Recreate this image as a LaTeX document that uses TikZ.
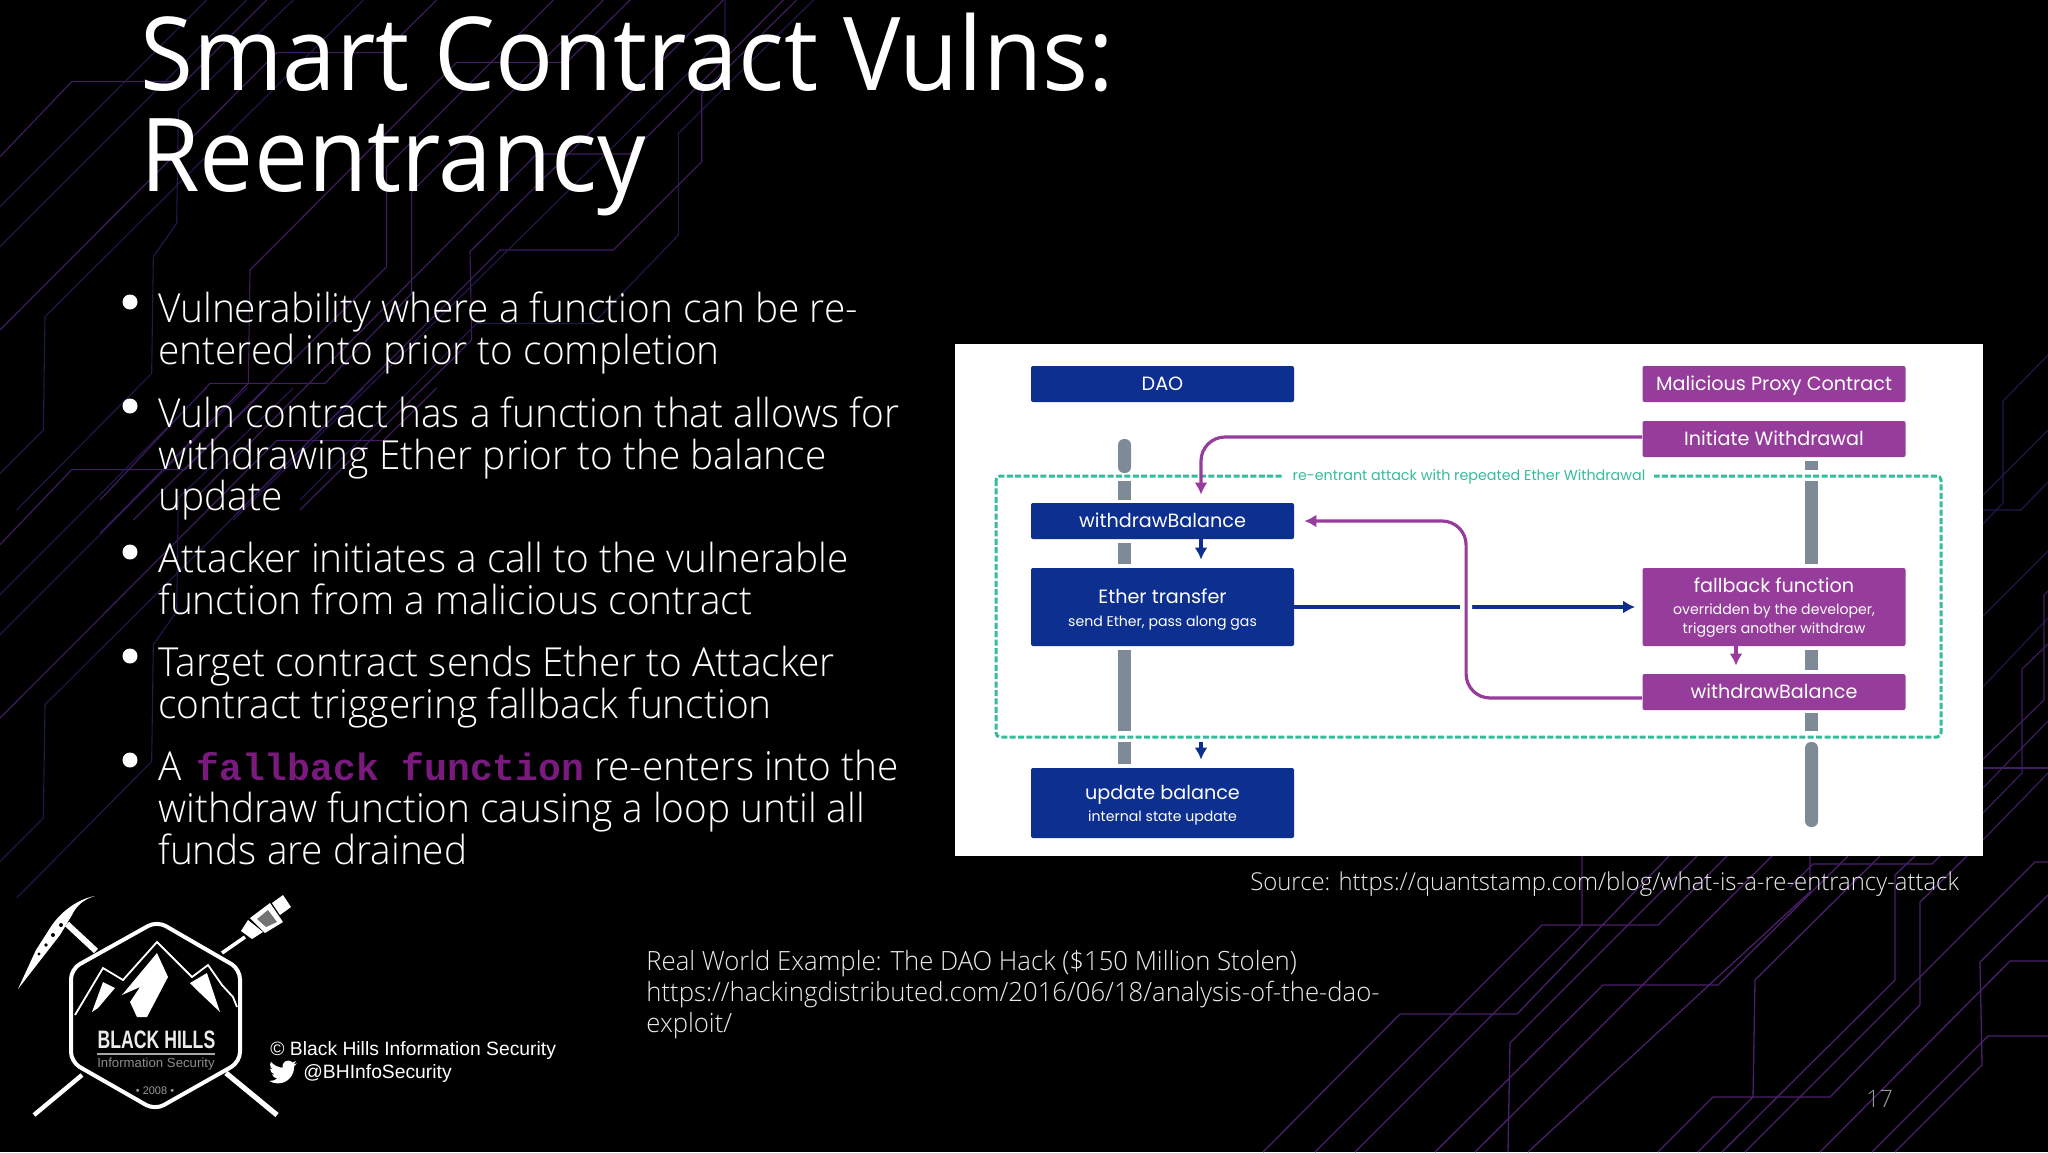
\documentclass[tikz,border=0pt]{standalone}
\usepackage{fontspec}
\usetikzlibrary{arrows.meta}
\setmainfont{Open Sans}[UprightFont=* Light,FakeStretch=0.97]
\newfontfamily\titlefont{Open Sans}[FakeStretch=0.945]
\newfontfamily\diagfont{Poppins}
\newfontfamily\arialfont{Liberation Sans}
\newfontfamily\couriermono{Liberation Mono}[BoldFont=* Bold]
\definecolor{daoblue}{HTML}{0D2F8F}
\definecolor{mpurple}{HTML}{963C9B}
\definecolor{mgreen}{HTML}{35BC9B}
\definecolor{mgray}{HTML}{7E8A96}
\definecolor{traceA}{HTML}{26174F}
\definecolor{traceB}{HTML}{411D63}
\definecolor{traceC}{HTML}{4A1F6C}
\tikzset{
  title/.style={anchor=base west,inner sep=0pt,text=white,font=\titlefont\fontsize{51pt}{60pt}\selectfont},
  body/.style={anchor=base west,inner sep=0pt,text=white,font=\fontsize{20pt}{24pt}\selectfont},
  small/.style={anchor=base west,inner sep=0pt,text=white!92!black,font=\fontsize{13.25pt}{16pt}\selectfont},
  smaller/.style={small,font=\fontsize{12.3pt}{16pt}\selectfont},
  credit/.style={anchor=base west,inner sep=0pt,text=white,font=\arialfont\fontsize{9.65pt}{12pt}\selectfont},
  bullet/.style={circle,fill=white,inner sep=0pt,minimum size=7.5pt},
  dbox/.style={draw=none,rounded corners=1pt,inner sep=0pt,text=white,font=\diagfont\fontsize{9.6pt}{11pt}\selectfont,minimum width=131.5pt,text height=7.5pt,text depth=.7pt},
  bluebox/.style={dbox,fill=daoblue},
  purplebox/.style={dbox,fill=mpurple},
  sub/.style={inner sep=0pt,text=white,font=\diagfont\fontsize{7.05pt}{8pt}\selectfont},
  head/.style={inner sep=0pt,text=white,font=\diagfont\fontsize{9.6pt}{11pt}\selectfont},
  bar/.style={draw=mgray,line width=6.5pt},
  bluearrow/.style={draw=daoblue,line width=1.6pt,-{Latex[length=6pt,width=6.5pt]}},
  purplearrow/.style={draw=mpurple,line width=1.6pt,-{Latex[length=6pt,width=6.5pt]}},
  tA/.style={draw=traceA,line width=.55pt,line join=miter},
  tB/.style={draw=traceB,line width=.55pt,line join=miter},
  tC/.style={draw=traceC,line width=.65pt,line join=miter},
  logoline/.style={draw=white,line width=2.2pt,line cap=butt},
}
\newcommand{\bgtile}{%
  \draw[tB] (0,470)--(215,245)--(555,245)--(800,0);
  \draw[tA] (0,620)--(620,0);
  \draw[tA] (0,740)--(740,0);
  \draw[tB] (0,990)--(830,158)--(1150,158)--(1310,0);
  \draw[tA] (880,0)--(535,330)--(530,670)--(460,770)--(455,1120)--(50,1530);
  \draw[tA] (1090,0)--(135,950)--(130,1290)--(-100,1520);
  \draw[tB] (300,1500)--(630,1150)--(975,1150)--(1235,880)--(1235,575)--(1810,0);
  \draw[tB] (400,1560)--(1160,800)--(1160,500)--(1660,0);
  \draw[tB] (300,1600)--(745,1150)--(750,810)--(1370,187)--(1700,187)--(1890,0);
  \draw[tB] (900,1530)--(1415,1020)--(1410,755)--(2170,0);
  \draw[tA] (900,1500)--(1430,970)--(1780,970)--(2035,705)--(2035,400)--(2440,0);
  \draw[tB] (700,1550)--(1500,750)--(1840,750)--(2105,485)--(2105,280)--(2390,0);
  \draw[tB] (600,1480)--(1610,462)--(1890,462)--(2350,0);
  \draw[tA] (2175,-10)--(2175,110)--(700,1560);
}
\begin{document}
\begin{tikzpicture}[x=.5pt,y=-.5pt]
\useasboundingbox (0,0) rectangle (2048,1152);
\fill[black] (0,0) rectangle (2048,1152);
% background traces
\begin{scope}
\clip (0,0) rectangle (2048,1152);
\begin{scope}[x=.16667pt,y=-.16667pt]
  \bgtile
\end{scope}
\begin{scope}[shift={(0,388)},x=.16667pt,y=-.16667pt]
  \clip (-100,-100)--(1486,-100)--(520,866)--(520,1100)--(-100,1720)--cycle;
  \bgtile
\end{scope}
\draw[tC] (1263,1152)--(1400,1014)--(1517,1014)--(1669,856);
\draw[tC] (1315,1152)--(1542,925)--(1658,925)--(1727,856);
\draw[tC] (1355,1152)--(1582,925)--(1582,856);
\draw[tC] (1435,1152)--(1603,985)--(1718,985)--(1848,856);
\draw[tC] (1508,1152)--(1510,1043)--(1697,856);
\draw[tC] (1475,1152)--(1772,856);
\draw[tC] (1528,1152)--(1810,892)--(1810,856);
\draw[tC] (1658,1152)--(1713,1097)--(1830,1097)--(1920,1005)--(1920,902)--(1967,856);
\draw[tC] (1698,1152)--(1753,1097)--(1755,980)--(1880,856);
\draw[tC] (1722,1152)--(1895,980)--(1895,875)--(1915,856);
\draw[tC] (1745,1152)--(2035,862)--(2048,862);
\draw[tC] (1820,1152)--(2010,961)--(2048,961);
\draw[tC] (1872,1152)--(1988,1036)--(2048,1036);
\draw[tC] (1895,1152)--(1982,1065)--(1980,962)--(2048,895);
\draw[tC] (1790,887)--(1813,864)--(1932,864)--(1940,856);
% right of the panel
\draw[tA] (1980,498)--(2048,430);
\draw[tA] (2048,355)--(2003,401)--(2003,503)--(1980,527);
\draw[tA] (1980,510)--(2021,510)--(2048,482);
\draw[tA] (1980,619)--(2048,551);
\draw[tA] (1980,690)--(2048,618);
\draw[tB] (2048,591)--(2044,595)--(2044,700)--(1980,762);
\draw[tB] (2048,644)--(2022,669)--(2022,773)--(1980,816);
\draw[tB] (1980,768)--(2048,768);
\draw[tB] (1980,791)--(2048,721);
\draw[tB] (1980,843)--(2048,773);
\end{scope}
% title
\node[title] (t1) at (140,90) {Smart Contract Vulns:};
\node[title] (t2) at (140,191) {Reentrancy};
% bullets
\node[bullet] (b1) at (130,302) {};
\node[bullet] (b2) at (130,406) {};
\node[bullet] (b3) at (130,552) {};
\node[bullet] (b4) at (130,656) {};
\node[bullet] (b5) at (130,760) {};
\node[body] (l1) at (158,322) {Vulnerability where a function can be re-};
\node[body] (l2) at (158,364) {entered into prior to completion};
\node[body] (l3) at (158,427) {Vuln contract has a function that allows for};
\node[body] (l4) at (158,469) {withdrawing Ether prior to the balance};
\node[body] (l5) at (158,510) {update};
\node[body] (l6) at (158,572) {Attacker initiates a call to the vulnerable};
\node[body] (l7) at (158,614) {function from a malicious contract};
\node[body] (l8) at (158,676) {Target contract sends Ether to Attacker};
\node[body] (l9) at (158,718) {contract triggering fallback function};
\node[body] (l10) at (158,780) {A\hspace{2.4pt} {\couriermono\bfseries\fontsize{19pt}{24pt}\selectfont\color[HTML]{7A1A7E}fallback function} re-enters into the};
\node[body] (l11) at (158,822) {withdraw function causing a loop until all};
\node[body] (l12) at (158,864) {funds are drained};
% picture panel
\fill[white] (955,344) rectangle (1983,856);
\draw[mgreen,line width=1.5pt,dash pattern=on 3pt off 1.2pt,rounded corners=2pt] (996,476) rectangle (1941,737);
\node[inner sep=0pt,fill=white,minimum width=185pt,minimum height=9pt,text=mgreen,font=\diagfont\fontsize{7.15pt}{8pt}\selectfont] (lab) at (1469,477) {re-entrant attack with repeated Ether Withdrawal};
% grey bars
\fill[mgray,rounded corners=3pt] (1118,439) rectangle (1131,473);
\draw[bar] (1124.5,481)--(1124.5,500);
\draw[bar] (1124.5,543)--(1124.5,564);
\draw[bar] (1124.5,650)--(1124.5,731);
\draw[bar] (1124.5,742)--(1124.5,764);
\draw[bar] (1811.5,461)--(1811.5,470);
\draw[bar] (1811.5,481)--(1811.5,564);
\draw[bar] (1811.5,650)--(1811.5,670);
\draw[bar] (1811.5,713)--(1811.5,731);
\fill[mgray,rounded corners=3pt] (1805,742) rectangle (1818,827);
% boxes
\node[bluebox,minimum height=18pt] (dao) at (1162.5,384) {DAO};
\node[purplebox,minimum height=18pt] (mal) at (1774,384) {Malicious Proxy Contract};
\node[purplebox,minimum height=18pt] (init) at (1774,439) {Initiate Withdrawal};
\node[bluebox,minimum height=18pt] (wl) at (1162.5,521) {withdrawBalance};
\node[bluebox,minimum height=39pt] (eth) at (1162.5,607) {};
\node[head] (ethA) at (1162.5,596) {Ether transfer};
\node[sub] (ethB) at (1162.5,623) {send Ether, pass along gas};
\node[purplebox,minimum height=39pt] (fb) at (1774,607) {};
\node[head] (fbA) at (1774,585) {fallback function};
\node[sub] (fbB) at (1774,611) {overridden by the developer,};
\node[sub] (fbC) at (1774,630) {triggers another withdraw};
\node[purplebox,minimum height=18pt] (wr) at (1774,692) {withdrawBalance};
\node[bluebox,minimum height=35pt] (upd) at (1162.5,803) {};
\node[head] (updA) at (1162.5,795) {update balance};
\node[sub] (updB) at (1162.5,818) {internal state update};
% connectors
\draw[bluearrow,shorten >=3.5pt] (eth.east) -- (fb.west);
\draw[purplearrow,rounded corners=12pt,preaction={draw=white,line width=6pt},shorten >=5pt] ([yshift=-3pt]wr.west) -- ++(-176,0) |- (wl.east);
\draw[purplearrow,rounded corners=12pt,shorten >=4pt] ([yshift=1pt]init.west) -| ([xshift=19.25pt]wl.north);
\draw[bluearrow,shorten >=4pt] ([xshift=19.25pt]wl.south) -- ([xshift=19.25pt]eth.north);
\draw[purplearrow,shorten >=4pt] ([xshift=-19pt]fb.south) -- ([xshift=-19pt]wr.north);
\draw[bluearrow,shorten >=4pt] ([xshift=19.25pt,yshift=13pt]upd.north) -- ([xshift=19.25pt]upd.north);
% captions
\node[smaller] (src) at (1250,890) {Source: https://quantstamp.com/blog/what-is-a-re-entrancy-attack};
\node[small] (r1) at (646,970) {Real World Example: The DAO Hack (\$150 Million Stolen)};
\node[small] (r2) at (646,1001) {https://hackingdistributed.com/2016/06/18/analysis-of-the-dao-};
\node[small] (r3) at (646,1032) {exploit/};
\node[anchor=base west,inner sep=0pt,text=white!60!black,font=\fontsize{12pt}{14pt}\selectfont] (num) at (1866,1107) {17};
\node[credit] (c1) at (270,1055) {© Black Hills Information Security};
\node[credit] (c2) at (303,1078) {@BHInfoSecurity};
% twitter bird
\begin{scope}[shift={(269,1058)},x=.583pt,y=-.583pt]
\fill[white] (24,4.59)--(21.13,5.35)--(23.29,2.62) .. controls (22.34,3.18) and (21.29,3.58) .. (20.16,3.81) .. controls (19.2,2.8) and (17.9,2.2) .. (16.57,2.2) .. controls (13.4,2.2) and (11,5) .. (11.78,8.29) .. controls (7.69,8.1) and (4.07,6.13) .. (1.64,3.16) .. controls (1.2,3.9) and (.97,4.75) .. (.97,5.64) .. controls (.97,7.35) and (1.84,8.85) .. (3.16,9.73) .. controls (2.37,9.7) and (1.6,9.5) .. (.93,9.12) -- (.93,9.18) .. controls (.93,11.55) and (2.6,13.55) .. (4.88,14) .. controls (4.15,14.2) and (3.4,14.25) .. (2.66,14.09) .. controls (3.3,16.05) and (5.1,17.45) .. (7.27,17.5) .. controls (5.5,18.9) and (3.3,19.6) .. (1.17,19.6) .. controls (.78,19.6) and (.39,19.58) .. (0,19.54) .. controls (2.2,20.95) and (4.8,21.75) .. (7.56,21.75) .. controls (16.6,21.75) and (21.55,14.25) .. (21.55,7.76) .. controls (21.55,7.55) and (21.55,7.34) .. (21.54,7.13) .. controls (22.5,6.43) and (23.35,5.57) .. (24,4.59) -- cycle;
\end{scope}
% logo
\draw[draw=white,line width=2pt,rounded corners=5pt] (157,921)--(240,969)--(240,1062)--(155,1110)--(71,1062)--(71,969)--cycle;
\draw[logoline,line width=3pt] (67,924)--(96,951);
\draw[logoline] (82,1075)--(34,1115);
\draw[logoline,line width=2.6pt] (226,1073)--(277,1115);
\draw[logoline,line width=1.8pt] (222,953)--(245,937);
% pick head
\fill[white] (95,896) .. controls (84,899) and (76,906) .. (72,915) -- (60,935) -- (18,989) -- (36,950) -- (52,925) .. controls (62,911) and (78,899) .. (95,896) -- cycle;
\fill[black] (61,925) circle (1pt) (53,935) circle (1pt) (46,945) circle (.9pt) (39,954) circle (.8pt);
% usb plug
\fill[white] (241,931)--(248,920)--(263,932)--(252,939)--cycle;
\fill[white] (250,918)--(270,903)--(283,922)--(265,933)--cycle;
\fill[black!55] (257,919)--(268,910)--(277,922)--(266,927)--cycle;
\fill[white] (272,903)--(283,895)--(291,907)--(280,915)--cycle;
% mountains
\draw[white,line width=.9pt,line join=miter] (75,1015)--(103,968)--(123,980)--(157,942)--(192,977)--(208,965)--(222,985)--(233,997)--(237,1007);
\fill[white] (92,1012)--(103,982)--(115,988)--(98,1008)--cycle;
\fill[white] (122,995)--(157,953)--(168,977)--(147,1017)--(137,1017)--(130,1002)--(140,987)--cycle;
\fill[white] (190,983)--(207,973)--(220,1012)--(200,993)--cycle;
\node[anchor=base,inner sep=0pt,text=white!92!black,font=\arialfont\bfseries\fontsize{12.6pt}{14pt}\selectfont] (lg1) at (156.5,1048) {\addfontfeature{FakeStretch=0.7}BLACK HILLS};
\draw[white!65!black,line width=.8pt] (97,1054)--(215,1054);
\node[inner sep=0pt,text=white!55!black,font=\arialfont\fontsize{6.6pt}{8pt}\selectfont] (lg2) at (156,1064) {Information Security};
\node[inner sep=0pt,text=white!60!black,font=\arialfont\fontsize{5.5pt}{7pt}\selectfont] (lg3) at (155,1091) {• 2008 •};
\end{tikzpicture}
\end{document}
